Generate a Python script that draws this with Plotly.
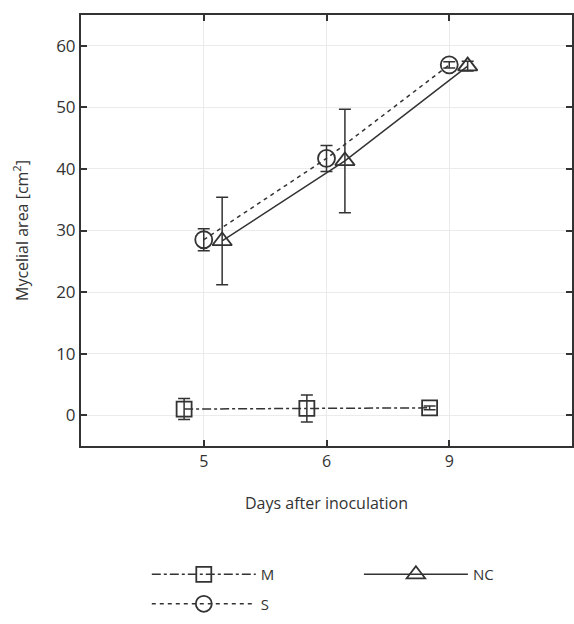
import numpy as np
import plotly.graph_objects as go

# Days after inoculation (categories) and mycelial area per treatment
days = ["5", "6", "9"]
m_mean = [1.0, 1.1, 1.2]
m_err = [1.7, 2.2, 0.3]
s_mean = [28.5, 41.7, 56.9]
s_err = [1.8, 2.1, 0.5]
nc_mean = [28.3, 41.3, 56.7]
nc_err = [7.1, 8.4, 0.8]

INK = "#333333"
base = np.arange(1, len(days) + 1)


def series(name, mean, err, offset, symbol, size, dash, legend):
    return go.Scatter(
        x=base + offset,
        y=mean,
        name=name,
        legendgroup=name,
        mode="lines+markers",
        line=dict(color=INK, width=1.5, dash=dash),
        marker=dict(symbol=symbol, size=size, color=INK,
                    line=dict(color=INK, width=1.8)),
        error_y=dict(type="data", array=err, visible=True,
                     color=INK, thickness=1.5, width=6),
        legend=legend,
    )


fig = go.Figure()
fig.add_trace(series("M", m_mean, m_err, -0.16, "square-open", 15, "dashdot", "legend"))
fig.add_trace(series("S", s_mean, s_err, 0.0, "circle-open", 17, "4px,4px", "legend"))
fig.add_trace(series("NC", nc_mean, nc_err, 0.15, "triangle-up-open", 17, "solid", "legend2"))

font_family = "Open Sans, Noto Sans, sans-serif"

fig.update_layout(
    width=574,
    height=624,
    margin=dict(l=81, r=0, t=15, b=178),
    paper_bgcolor="white",
    plot_bgcolor="white",
    font=dict(family=font_family, size=16, color=INK),
    xaxis=dict(
        range=[0, 4],
        tickvals=base,
        ticktext=days,
        tickfont=dict(size=16),
        ticks="inside",
        ticklen=6,
        tickwidth=1.5,
        tickcolor=INK,
        showline=True,
        linecolor=INK,
        linewidth=2,
        mirror="ticks",
        showgrid=True,
        gridcolor="#ebebeb",
        zeroline=False,
        title=dict(text="Days after inoculation", standoff=27,
                   font=dict(size=16)),
    ),
    yaxis=dict(
        range=[-5, 65],
        tickvals=[0, 10, 20, 30, 40, 50, 60],
        tickfont=dict(size=17),
        ticks="inside",
        ticklen=6,
        tickwidth=1.5,
        tickcolor=INK,
        showline=True,
        linecolor=INK,
        linewidth=2,
        mirror="ticks",
        showgrid=True,
        gridcolor="#ebebeb",
        zeroline=False,
        title=dict(text="Mycelial area [cm<sup>2</sup>]", standoff=24,
                   font=dict(size=16)),
    ),
    legend=dict(
        x=0.134, y=-0.26, xanchor="left", yanchor="top",
        xref="paper", yref="paper",
        orientation="v", bgcolor="rgba(0,0,0,0)",
        traceorder="grouped", tracegroupgap=7,
        font=dict(size=15), itemwidth=104,
    ),
    legend2=dict(
        x=0.566, y=-0.26, xanchor="left", yanchor="top",
        xref="paper", yref="paper",
        orientation="v", bgcolor="rgba(0,0,0,0)",
        font=dict(size=15), itemwidth=104,
    ),
)

fig.write_html("out.html")
